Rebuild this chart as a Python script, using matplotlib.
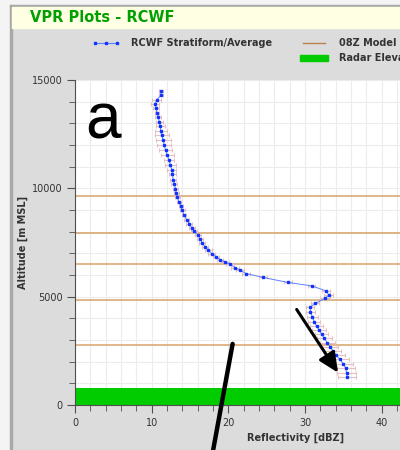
import matplotlib
matplotlib.use('Agg')
import matplotlib.pyplot as plt
from matplotlib.lines import Line2D
from matplotlib.patches import Rectangle, Patch
from matplotlib.ticker import MultipleLocator

# profile, top to bottom
altitude = [14470, 14285, 14087, 13900, 13718, 13488, 13285, 13055, 12856, 12640,
            12440, 12210, 11980, 11750, 11520, 11290, 11060, 10860, 10645, 10400,
            10185, 9985, 9780, 9600, 9370, 9170, 8985, 8755, 8557, 8373,
            8190, 8030, 7865, 7680, 7480, 7295, 7143, 6990, 6834, 6714,
            6603, 6497, 6345, 6220, 6069, 5885, 5654, 5498, 5267, 5069,
            4916, 4686, 4502, 4300, 4070, 3838, 3640, 3456, 3272, 3073,
            2870, 2686, 2502, 2304, 2106, 1889, 1691, 1488, 1276]
reflectivity = [11.2, 11.2, 10.65, 10.45, 10.55, 10.7, 10.85, 11.0, 11.1, 11.2,
                11.3, 11.5, 11.65, 11.8, 12.05, 12.25, 12.45, 12.6, 12.7, 12.8,
                12.95, 13.1, 13.2, 13.35, 13.55, 13.8, 14.0, 14.2, 14.55, 14.9,
                15.2, 15.5, 16.0, 16.3, 16.6, 16.95, 17.4, 17.8, 18.4, 18.9,
                19.55, 20.2, 20.85, 21.5, 22.3, 24.55, 27.8, 30.85, 32.75, 33.1,
                32.6, 31.3, 30.65, 30.7, 30.95, 31.2, 31.5, 31.85, 32.15, 32.5,
                32.9, 33.25, 33.6, 34.05, 34.55, 35.0, 35.3, 35.4, 35.5]
spread = [0.3, 0.3, 0.6, 0.5, 0.4, 0.3, 0.4, 0.5, 0.6, 0.8,
          0.9, 1.0, 0.9, 0.9, 0.8, 0.7, 0.7, 0.6, 0.5, 0.4,
          0.4, 0.3, 0.3, 0.3, 0.3, 0.3, 0.3, 0.3, 0.3, 0.4,
          0.4, 0.4, 0.4, 0.4, 0.4, 0.4, 0.4, 0.4, 0.4, 0.4,
          0.5, 0.5, 0.5, 0.5, 0.5, 0.5, 0.5, 0.5, 0.5, 0.6,
          0.6, 0.5, 0.5, 0.6, 0.7, 0.8, 0.8, 0.9, 0.9, 1.0,
          1.0, 1.0, 1.1, 1.1, 1.2, 1.2, 1.2, 1.2, 1.2]
temp_levels = [9630, 7925, 6500, 4840, 2765]
radar_elev = 780

fig = plt.figure(figsize=(4, 4.5), dpi=100, facecolor='#dcdcdc')
W, H = 400.0, 450.0

# frame / title bar
fig.patches.append(Rectangle((0, 0), 10 / W, 1, transform=fig.transFigure, color='#f4f4f4', zorder=0))
fig.patches.append(Rectangle((0, 1 - 5 / H), 1, 5 / H, transform=fig.transFigure, color='#f4f4f4', zorder=0))
fig.patches.append(Rectangle((10 / W, 0), 2 / W, 1 - 5 / H, transform=fig.transFigure, color='#a8a8a8', zorder=1))
fig.patches.append(Rectangle((10 / W, 1 - 7 / H), 1, 2 / H, transform=fig.transFigure, color='#a8a8a8', zorder=1))
fig.patches.append(Rectangle((12 / W, 1 - 28 / H), 1, 21 / H, transform=fig.transFigure, color='#ffffe3', zorder=1))
fig.text(30 / W, 1 - 17.5 / H, 'VPR Plots - RCWF', color='#00a000', fontsize=10.5,
         fontweight='bold', va='center', ha='left')

ax = fig.add_axes([75 / W, 45 / H, 441.8 / W, 325 / H])
ax.set_xlim(0, 57.6)
ax.set_ylim(0, 15000)

ax.xaxis.set_major_locator(MultipleLocator(10))
ax.xaxis.set_minor_locator(MultipleLocator(2))
ax.yaxis.set_major_locator(MultipleLocator(5000))
ax.yaxis.set_minor_locator(MultipleLocator(1000))
ax.grid(which='both', color='#ececec', lw=0.8)
ax.set_axisbelow(True)

for s in ['top', 'right']:
    ax.spines[s].set_visible(False)
for s in ['left', 'bottom']:
    ax.spines[s].set_color('#505050')
ax.tick_params(which='major', length=6, color='#505050', labelsize=7, labelcolor='#333333', pad=3)
ax.tick_params(which='minor', length=4, color='#505050')

ax.axhspan(0, radar_elev, color='#00cc00', lw=0, zorder=2)
for lev in temp_levels:
    ax.axhline(lev, color='#d6a468', lw=1.1, zorder=2)

ax.errorbar(reflectivity, altitude, xerr=spread, fmt='none', ecolor='#e6c0c0',
            elinewidth=0.8, capsize=1.5, capthick=0.8, zorder=3)
ax.plot(reflectivity, altitude, color='#6080ff', lw=0.7, marker='s', ms=1.5,
        mfc='#1035ff', mec='#1035ff', zorder=4)

ax.set_xlabel('Reflectivity [dBZ]', fontsize=7, fontweight='bold', color='#333333', labelpad=4)
ax.set_ylabel('Altitude [m MSL]', fontsize=7, fontweight='bold', color='#333333', labelpad=3)

ax.text(1.4, 12300, 'a', fontsize=46, family='Liberation Sans', color='black', zorder=6)

ax.annotate('', xy=(34.3, 1490), xytext=(28.9, 4410),
            arrowprops=dict(arrowstyle='-|>,head_length=1.2,head_width=0.55', color='black', lw=2.2,
                            shrinkA=0, shrinkB=0), zorder=6)
ax.annotate('', xy=(18.0, -2100), xytext=(20.55, 2820), annotation_clip=False,
            arrowprops=dict(arrowstyle='-', color='black', lw=3.2, shrinkA=0, shrinkB=0), zorder=6)

handles = [Line2D([], [], color='#6080ff', lw=0.8, marker='s', ms=1.5, mfc='#1035ff', mec='#1035ff'),
           Line2D([], [], color='none'),
           Line2D([], [], color='#b8824a', lw=1.0),
           Patch(color='#00cc00')]
labels = ['RCWF Stratiform/Average', '', '08Z Model Temperature', 'Radar Elevation']
leg = fig.legend(handles, labels, ncol=2, loc='upper left', bbox_to_anchor=(92 / W, 1 - 38 / H),
                 frameon=False, borderpad=0, borderaxespad=0, numpoints=3,
                 handlelength=2.9, handletextpad=1.1, columnspacing=2.9, labelspacing=0.55,
                 prop=dict(size=7, weight='bold'))
for t in leg.get_texts():
    t.set_color('#333333')

fig.savefig('out.png', dpi=100, facecolor=fig.get_facecolor())
